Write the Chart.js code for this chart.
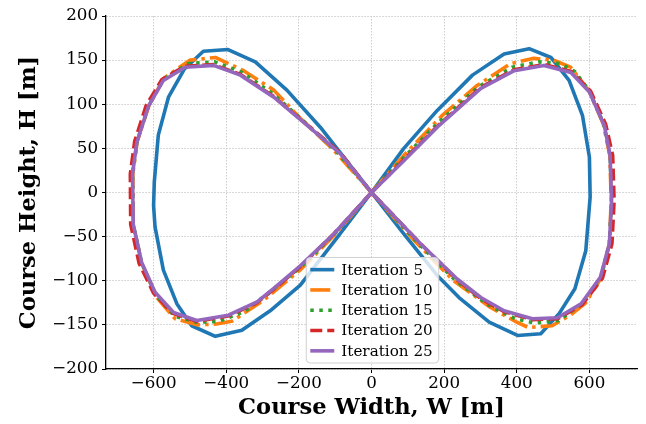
<!DOCTYPE html>
<html>
<head>
<meta charset="utf-8">
<script src="https://cdn.jsdelivr.net/npm/chart.js@4.4.1/dist/chart.umd.min.js"></script>
<style>
  html, body { margin: 0; padding: 0; background: #fff; }
  #wrap { width: 646px; height: 424px; }
</style>
</head>
<body>
<div id="wrap"><canvas id="chart-course" width="646" height="424"></canvas></div>
<script>
// Series labels
const seriesNames = ['Iteration 5', 'Iteration 10', 'Iteration 15', 'Iteration 20', 'Iteration 25'];

// Course points, W (x) and H (y) in metres, in path order
const iter5W = [0, 89, 181, 278, 365, 434, 494, 544, 581, 600, 602, 590, 560, 517, 466, 402, 324, 241, 181, 89, 0,
    -141, -233, -320, -395, -463, -515, -559, -587, -598, -600, -596, -573, -536, -495, -430, -357, -279, -196, -100, 0];
const iter5H = [0, 50, 93, 133, 157, 163, 153, 127, 87, 40, -5, -66, -109, -137, -160, -162, -147, -119, -94, -47, 0,
    74, 116, 148, 162, 160, 140, 108, 65, 12, -15, -39, -88, -126, -151, -163, -156, -134, -105, -54, 0];

const iter10W = [0, 98, 194, 290, 383, 447, 501, 548, 598, 638, 656, 660, 655, 632, 590, 548, 497, 432, 400, 327, 226, 117, 0,
    -104, -196, -269, -352, -430, -500, -573, -613, -645, -657, -656, -633, -591, -541, -480, -427, -385, -297, -197, -104, 0];
const iter10H = [0, 46, 87, 121, 146, 152, 150, 142, 116, 78, 42, -8, -58, -97, -125, -139, -151, -153, -147, -130, -100, -54, 0,
    48, 84, 116, 138, 153, 150, 129, 98, 58, 21, -36, -80, -119, -143, -150, -149, -146, -122, -88, -49, 0];

const iter15W = [0, 92, 186, 295, 388, 460, 520, 560, 600, 640, 657, 661, 655, 631, 580, 515, 450, 395, 320, 232, 125, 0,
    -95, -185, -272, -356, -432, -505, -573, -614, -646, -658, -656, -633, -594, -543, -482, -420, -350, -290, -196, -104, 0];
const iter15H = [0, 41, 80, 120, 142, 148, 146, 137, 115, 77, 42, -8, -58, -97, -126, -145, -148, -143, -127, -100, -56, 0,
    46, 80, 112, 136, 148, 146, 128, 98, 57, 21, -36, -80, -116, -140, -147, -146, -135, -116, -85, -48, 0];

const iter20W = [0, 89, 181, 300, 392, 475, 550, 603, 645, 664, 668, 662, 636, 580, 513, 443, 365, 300, 236, 135, 0,
    -86, -178, -270, -362, -436, -515, -577, -620, -652, -664, -663, -640, -600, -547, -482, -395, -316, -270, -196, -104, 0];
const iter20H = [0, 37, 75, 119, 139, 145, 137, 115, 77, 42, -9, -58, -97, -127, -143, -144, -135, -120, -99, -58, 0,
    45, 77, 109, 134, 145, 143, 128, 99, 58, 21, -36, -80, -114, -137, -146, -140, -125, -110, -84, -47, 0];

const iter25W = [0, 89, 181, 301, 393, 475, 549, 600, 641, 657, 661, 655, 630, 577, 512, 443, 365, 301, 236, 135, 0,
    -86, -177, -269, -361, -435, -513, -573, -614, -646, -658, -656, -633, -596, -545, -481, -394, -315, -270, -196, -104, 0];
const iter25H = [0, 36, 74, 118, 138, 144, 136, 114, 76, 42, -9, -58, -96, -126, -142, -143, -134, -119, -98, -58, 0,
    44, 76, 108, 133, 144, 142, 127, 98, 57, 21, -36, -79, -113, -136, -145, -139, -124, -109, -83, -47, 0];

// Tick values
const xTicks = [-600, -400, -200, 0, 200, 400, 600];
const yTicks = [-200, -150, -100, -50, 0, 50, 100, 150, 200];

const allW = [iter5W, iter10W, iter15W, iter20W, iter25W];
const allH = [iter5H, iter10H, iter15H, iter20H, iter25H];

// Line styles (matplotlib tab10 + '-', '-.', ':', '--', '-')
const colors = ['#1f77b4', '#ff7f0e', '#2ca02c', '#d62728', '#9467bd'];
const dashes = [[], [20, 5, 3.5, 5], [3.5, 5.5], [12, 5], []];
const LW = 3.6;
const SERIF = '"DejaVu Serif", "Liberation Serif", serif';

function toPoints(ws, hs) {
    return ws.map((w, i) => ({ x: w, y: hs[i] }));
}

const datasets = seriesNames.map((name, i) => ({
    label: name,
    data: toPoints(allW[i], allH[i]),
    showLine: true,
    borderColor: colors[i],
    backgroundColor: colors[i],
    borderWidth: LW,
    borderDash: dashes[i],
    borderCapStyle: dashes[i].length ? 'butt' : 'round',
    borderJoinStyle: 'round',
    pointRadius: 0,
    tension: 0,
    order: 5 - i
}));

// Legend drawn inside the plot area, lower centre
const innerLegend = {
    id: 'innerLegend',
    afterDraw(chart) {
        const ctx = chart.ctx;
        const area = chart.chartArea;
        const fontSize = 15.2;
        const rowH = 20.3;
        const handleLen = 24;
        ctx.save();
        ctx.font = fontSize + 'px ' + SERIF;
        const textW = Math.max(...seriesNames.map(n => ctx.measureText(n).width));
        const boxW = 4 + handleLen + 7 + textW + 6;
        const boxH = rowH * seriesNames.length + 4;
        const boxX = area.left + (area.right - area.left) / 2 - boxW / 2 + 1;
        const boxY = area.bottom - 6 - boxH;

        ctx.beginPath();
        ctx.roundRect(boxX, boxY, boxW, boxH, 4);
        ctx.fillStyle = 'rgba(255,255,255,0.8)';
        ctx.fill();
        ctx.lineWidth = 1;
        ctx.strokeStyle = '#d0d0d0';
        ctx.stroke();

        seriesNames.forEach((name, i) => {
            const cy = boxY + 2 + rowH * (i + 0.5);
            ctx.beginPath();
            ctx.setLineDash(dashes[i]);
            ctx.lineCap = 'butt';
            ctx.lineWidth = LW;
            ctx.strokeStyle = colors[i];
            ctx.moveTo(boxX + 4, cy);
            ctx.lineTo(boxX + 4 + handleLen, cy);
            ctx.stroke();
            ctx.setLineDash([]);
            ctx.fillStyle = '#000';
            ctx.textBaseline = 'middle';
            ctx.textAlign = 'left';
            ctx.fillText(name, boxX + 4 + handleLen + 7, cy + 1);
        });
        ctx.restore();
    }
};

const ctxCourse = document.getElementById('chart-course');
const chartCourse = new Chart(ctxCourse, {
    type: 'scatter',
    data: { datasets: datasets },
    plugins: [innerLegend],
    options: {
        responsive: false,
        animation: false,
        layout: { padding: { top: 16, right: 9, left: 0, bottom: 0 } },
        plugins: {
            legend: { display: false },
            tooltip: { enabled: false }
        },
        scales: {
            x: {
                type: 'linear',
                min: -731,
                max: 731,
                afterBuildTicks: axis => { axis.ticks = xTicks.map(v => ({ value: v })); },
                afterFit: axis => { axis.height = 55; },
                ticks: {
                    color: '#000',
                    font: { family: SERIF, size: 16.7 },
                    padding: 1,
                    maxRotation: 0,
                    callback: v => (v < 0 ? '\u2212' + Math.abs(v) : '' + v)
                },
                grid: {
                    color: '#cccccc',
                    lineWidth: 1,
                    drawTicks: true,
                    tickLength: 4,
                    tickColor: '#000',
                    tickBorderDash: []
                },
                border: { display: true, color: '#000', width: 1.3, dash: [1.5, 1.5] },
                title: {
                    display: true,
                    text: 'Course Width, W [m]',
                    color: '#000',
                    font: { family: SERIF, size: 22.6, weight: 'bold' },
                    padding: { top: 0, bottom: 2 }
                }
            },
            y: {
                type: 'linear',
                min: -200,
                max: 200,
                afterBuildTicks: axis => { axis.ticks = yTicks.map(v => ({ value: v })); },
                afterFit: axis => { axis.width = 106; },
                ticks: {
                    color: '#000',
                    font: { family: SERIF, size: 16.7 },
                    padding: 4,
                    callback: v => (v < 0 ? '\u2212' + Math.abs(v) : '' + v)
                },
                grid: {
                    color: '#cccccc',
                    lineWidth: 1,
                    drawTicks: true,
                    tickLength: 4,
                    tickColor: '#000',
                    tickBorderDash: []
                },
                border: { display: true, color: '#000', width: 1.3, dash: [1.5, 1.5] },
                title: {
                    display: true,
                    text: 'Course Height, H [m]',
                    color: '#000',
                    font: { family: SERIF, size: 22.6, weight: 'bold' },
                    padding: { top: 16, bottom: 0 }
                }
            }
        }
    }
});
</script>
</body>
</html>
